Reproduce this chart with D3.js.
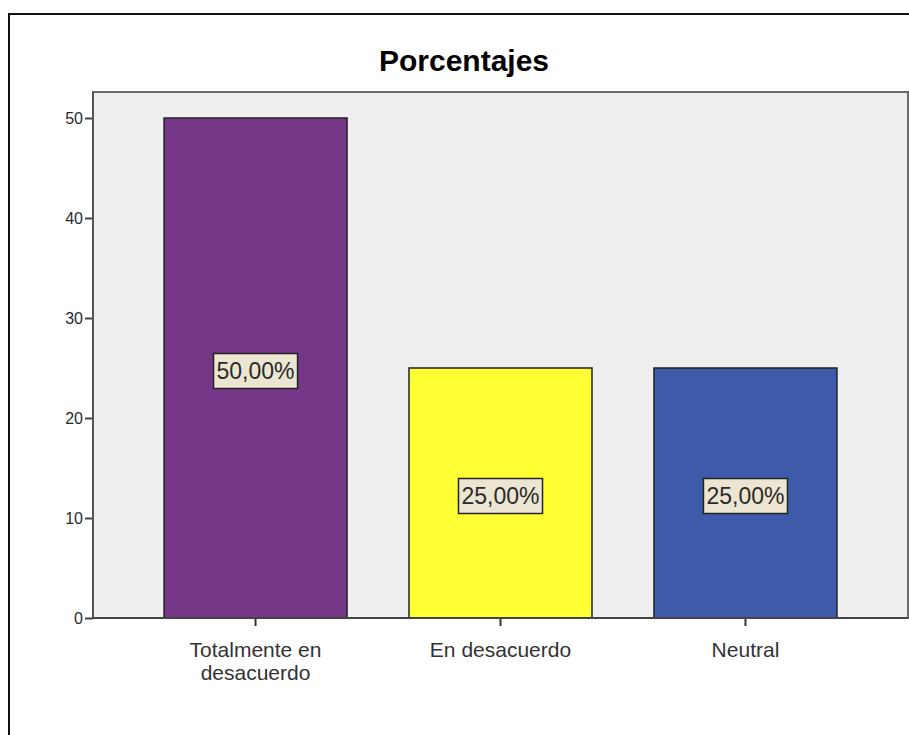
<!DOCTYPE html>
<html>
<head>
<meta charset="utf-8">
<script src="https://cdn.jsdelivr.net/npm/d3@7"></script>
<style>
  html, body { margin: 0; padding: 0; background: #fff; }
  svg { display: block; font-family: "Liberation Sans", Arial, sans-serif; }
</style>
</head>
<body>
<svg id="chart" width="909" height="735"></svg>
<script>
// Response categories and their percentages
const categories = ["Totalmente en desacuerdo", "En desacuerdo", "Neutral"];
const categoryLines = [["Totalmente en", "desacuerdo"], ["En desacuerdo"], ["Neutral"]];
const percentages = [50, 25, 25];
const valueLabels = ["50,00%", "25,00%", "25,00%"];
const barColors = ["#763789", "#ffff33", "#3e5ba9"];
const yTicks = [0, 10, 20, 30, 40, 50];
const chartTitle = "Porcentajes";

const svg = d3.select("#chart");

// Plot area bounds
const plot = { left: 93, right: 908, top: 92, bottom: 618 };

// Outer frame
svg.append("rect")
  .attr("x", 9).attr("y", 14)
  .attr("width", 1000).attr("height", 1000)
  .attr("fill", "none").attr("stroke", "#111").attr("stroke-width", 2);

// Title
svg.append("text")
  .attr("x", 464).attr("y", 71)
  .attr("text-anchor", "middle")
  .attr("font-size", 30).attr("font-weight", "bold")
  .attr("fill", "#000")
  .text(chartTitle);

// Plot background
svg.append("rect")
  .attr("x", plot.left).attr("y", plot.top)
  .attr("width", plot.right - plot.left).attr("height", plot.bottom - plot.top)
  .attr("fill", "#efefef").attr("stroke", "#6a6a6a").attr("stroke-width", 2);

const x = d3.scaleBand()
  .domain(categories)
  .range([plot.left, plot.right])
  .paddingInner(0.253)
  .paddingOuter(0.29);

const y = d3.scaleLinear()
  .domain([0, 50])
  .range([plot.bottom, plot.bottom - 500]);

// Bars
svg.append("g").selectAll("rect")
  .data(categories)
  .join("rect")
  .attr("x", d => x(d))
  .attr("y", (d, i) => y(percentages[i]))
  .attr("width", x.bandwidth())
  .attr("height", (d, i) => y(0) - y(percentages[i]))
  .attr("fill", (d, i) => barColors[i])
  .attr("stroke", "#222")
  .attr("stroke-width", 1.5);

// Value labels in boxes at mid-height of each bar
const labels = svg.append("g").selectAll("g")
  .data(categories)
  .join("g")
  .attr("transform", (d, i) => `translate(${x(d) + x.bandwidth() / 2},${y(percentages[i] / 2) + 3})`);

labels.each(function(d, i) {
  const g = d3.select(this);
  const t = g.append("text")
    .attr("text-anchor", "middle")
    .attr("dy", "0.36em")
    .attr("font-size", 23)
    .attr("fill", "#2a2a2a")
    .text(valueLabels[i]);
  const bb = t.node().getBBox();
  g.insert("rect", "text")
    .attr("x", bb.x - 3).attr("y", -17.5)
    .attr("width", bb.width + 6).attr("height", 35)
    .attr("fill", "#ece5d1")
    .attr("stroke", "#222").attr("stroke-width", 1.5);
});

// Y axis
const yAxis = svg.append("g")
  .attr("transform", `translate(${plot.left},0)`)
  .call(d3.axisLeft(y).tickValues(yTicks).tickSize(8).tickSizeOuter(0));
yAxis.select(".domain").remove();
yAxis.attr("font-size", 16).attr("font-family", "Liberation Sans, Arial, sans-serif");
yAxis.selectAll(".tick line").attr("stroke", "#444").attr("stroke-width", 2);
yAxis.selectAll(".tick text")
  .attr("font-size", 16).attr("fill", "#2a2a2a")
  .attr("x", -10);
svg.append("line")
  .attr("x1", plot.left).attr("x2", plot.left)
  .attr("y1", plot.top).attr("y2", plot.bottom)
  .attr("stroke", "#555").attr("stroke-width", 2);

// X axis
const xAxis = svg.append("g")
  .attr("transform", `translate(0,${plot.bottom})`)
  .call(d3.axisBottom(x).tickSize(8).tickSizeOuter(0).tickFormat(""));
xAxis.select(".domain").remove();
xAxis.selectAll(".tick line").attr("stroke", "#333").attr("stroke-width", 2);
svg.append("line")
  .attr("x1", plot.left).attr("x2", plot.right)
  .attr("y1", plot.bottom).attr("y2", plot.bottom)
  .attr("stroke", "#444").attr("stroke-width", 2);

// Category labels (wrapped)
svg.append("g").selectAll("text")
  .data(categories)
  .join("text")
  .attr("text-anchor", "middle")
  .attr("font-size", 21)
  .attr("fill", "#333")
  .attr("x", d => x(d) + x.bandwidth() / 2)
  .attr("y", 657)
  .each(function(d, i) {
    const t = d3.select(this);
    categoryLines[i].forEach((line, k) => {
      t.append("tspan")
        .attr("x", x(d) + x.bandwidth() / 2)
        .attr("dy", k === 0 ? 0 : 23)
        .text(line);
    });
  });
</script>
</body>
</html>
